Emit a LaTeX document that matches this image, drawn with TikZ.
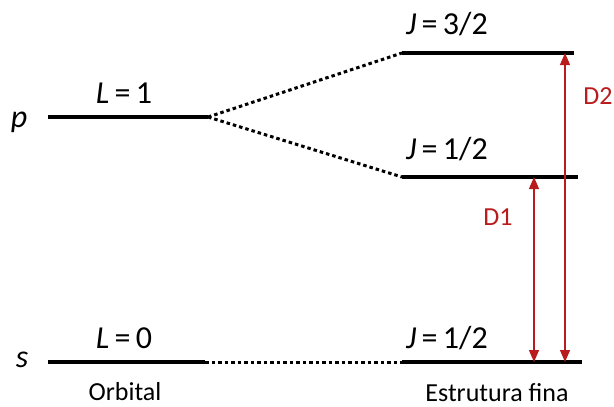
\documentclass[tikz,border=0pt]{standalone}
\usepackage{fontspec}
\setmainfont{Carlito}
\usetikzlibrary{arrows.meta,positioning,calc}
\definecolor{dred}{HTML}{B81C1C}

\begin{document}
\begin{tikzpicture}[x=1pt,y=-1pt,
  level/.style={line width=4pt},
  link/.style={line width=3pt,dash pattern=on 3.5pt off 3pt},
  trans/.style={dred,line width=1.3pt,{Triangle[length=12pt,width=10pt]}-{Triangle[length=12pt,width=10pt]}},
  lab/.style={font=\fontsize{32}{36}\selectfont,inner sep=0pt},
  small/.style={font=\fontsize{26}{30}\selectfont,inner sep=0pt}]
\useasboundingbox (0,0) rectangle (614,407);
% Level end points
\coordinate (pL) at (48,117);  \coordinate (pR) at (208,117);
\coordinate (sL) at (48,362);  \coordinate (sR) at (205,362);
\coordinate (aL) at (402,53);  \coordinate (aR) at (574,53);
\coordinate (bL) at (402,177); \coordinate (bR) at (578,177);
\coordinate (cL) at (402,362); \coordinate (cR) at (582,362);
% Levels
\foreach \l/\r in {pL/pR,sL/sR,aL/aR,bL/bR,cL/cR}
  \draw[level] (\l) -- (\r);
% Dotted links
\draw[link] (pR) -- (aL);
\draw[link] (pR) -- (bL);
\draw[link] (sR) -- (cL);
% Level labels
\node[lab,anchor=base] (p) at (19,127) {\textit{p}};
\node[lab,anchor=base] (s) at (22,367) {\textit{s}};
\node[lab] (L1) at (124,93) {\textit{L}\,=\,1};
\node[lab] (L0) at (124,338) {\textit{L}\,=\,0};
\node[lab,anchor=west] (J3) at (406,24) {\textit{J}\,=\,3/2};
\node[lab,anchor=west] (J1) at (406,149) {\textit{J}\,=\,1/2};
\node[lab,anchor=west] (J0) at (406,338) {\textit{J}\,=\,1/2};
\node[small] (orb) at (125,392) {Orbital};
\node[small] (fs) at (497,393) {Estrutura fina};
% Transitions
\coordinate (d1t) at (534,177); \coordinate (d1b) at (534,362);
\coordinate (d2t) at (565,53);  \coordinate (d2b) at (565,362);
\draw[trans] (d1t) -- (d1b);
\draw[trans] (d2t) -- (d2b);
\node[small,dred] (D1) at (498,217) {D1};
\node[small,dred] (D2) at (598,96) {D2};
\end{tikzpicture}
\end{document}
